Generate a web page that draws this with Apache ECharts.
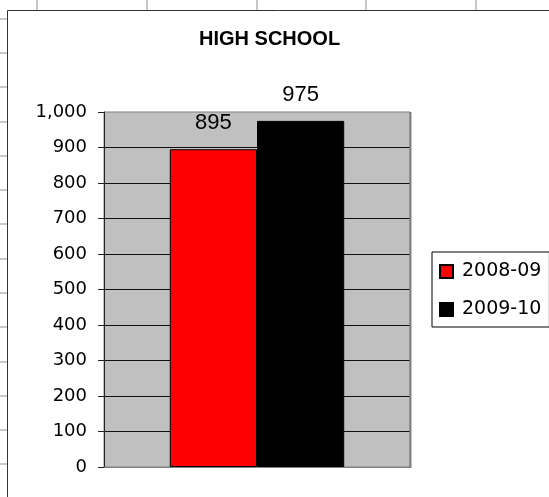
<!DOCTYPE html>
<html>
<head>
<meta charset="utf-8">
<script src="https://cdn.jsdelivr.net/npm/echarts@6/dist/echarts.min.js"></script>
<style>
	body {
		margin: 0;
		background: #fff;
	}

	#chart {
		width: 549px;
		height: 497px;
	}
</style>
</head>
<body>
<div id="chart"></div>
<script>
	// data
	var categories = ['HIGH SCHOOL'];
	var seriesNames = ['2008-09', '2009-10'];
	var values2008 = [895];
	var values2009 = [975];
	var barColors = ['#ff0000', '#000000'];

	// spreadsheet cell lines behind the chart (decoration only)
	var sheetCols = [37, 147, 257, 366, 476];
	var sheetRows = [19, 53, 87, 122, 156, 190, 224, 259, 293, 327, 362, 396, 430, 464];

	var deco = [];
	sheetCols.forEach(function(x) {
		deco.push({
			type: 'line',
			shape: { x1: x, y1: 0, x2: x, y2: 10 },
			style: { stroke: '#c8c8c8', lineWidth: 2 },
			z: -10
		});
	});
	sheetRows.forEach(function(y) {
		deco.push({
			type: 'line',
			shape: { x1: 0, y1: y, x2: 7, y2: y },
			style: { stroke: '#c8c8c8', lineWidth: 2 },
			z: -10
		});
	});
	// chart area border (runs off the right and bottom)
	deco.push({
		type: 'polyline',
		shape: { points: [[7.5, 497], [7.5, 10.5], [549, 10.5]] },
		style: { stroke: '#333', lineWidth: 1, fill: null },
		z: -5
	});
	// darker right edge of the plot area
	deco.push({
		type: 'line',
		shape: { x1: 410.5, y1: 112, x2: 410.5, y2: 468 },
		style: { stroke: '#808080', lineWidth: 2 },
		z: 5
	});

	var myChart = echarts.init(document.getElementById('chart'));

	var option = {
		animation: false,
		textStyle: { fontFamily: 'Liberation Sans, Arial, sans-serif' },
		title: {
			text: 'HIGH SCHOOL',
			left: 199,
			top: 29,
			padding: 0,
			textStyle: {
				fontFamily: 'Liberation Sans, Arial, sans-serif',
				fontSize: 20,
				fontWeight: 'bold',
				color: '#000'
			}
		},
		legend: {
			data: seriesNames,
			orient: 'vertical',
			left: 432,
			top: 252,
			padding: [10, 8, 8, 7],
			itemGap: 19,
			itemWidth: 13,
			itemHeight: 13,
			icon: 'rect',
			borderColor: '#000',
			borderWidth: 1,
			textStyle: {
				fontFamily: 'DejaVu Sans',
				fontSize: 19,
				color: '#000',
				padding: [0, 0, 0, 4]
			}
		},
		grid: {
			left: 104,
			top: 112,
			right: 139,
			bottom: 30,
			show: true,
			backgroundColor: '#c0c0c0',
			borderColor: '#808080',
			borderWidth: 1
		},
		xAxis: {
			type: 'category',
			data: categories,
			axisLine: { show: true, lineStyle: { color: '#808080', width: 1 } },
			axisTick: { show: false },
			axisLabel: { show: false }
		},
		yAxis: {
			type: 'value',
			min: 0,
			max: 1000,
			interval: 100,
			axisLine: { show: true, lineStyle: { color: '#222', width: 1 } },
			axisTick: { show: true, length: 6, lineStyle: { color: '#222' } },
			axisLabel: {
				margin: 17,
				fontFamily: 'DejaVu Sans',
				fontSize: 18,
				color: '#000',
				formatter: function(v) {
					return v.toLocaleString('en-US');
				}
			},
			splitLine: {
				show: true,
				showMinLine: false,
				showMaxLine: false,
				lineStyle: { color: '#111', width: 1 }
			}
		},
		graphic: deco,
		series: [{
				name: seriesNames[0],
				type: 'bar',
				data: values2008,
				barGap: 0,
				barCategoryGap: '43%',
				itemStyle: { color: barColors[0], borderColor: '#000', borderWidth: 1 },
				label: {
					show: true,
					position: 'top',
					distance: 15,
					fontFamily: 'Liberation Sans, Arial, sans-serif',
					fontSize: 22,
					color: '#000'
				}
			},
			{
				name: seriesNames[1],
				type: 'bar',
				data: values2009,
				barGap: 0,
				barCategoryGap: '43%',
				itemStyle: { color: barColors[1], borderColor: '#000', borderWidth: 1 },
				label: {
					show: true,
					position: 'top',
					distance: 15,
					fontFamily: 'Liberation Sans, Arial, sans-serif',
					fontSize: 22,
					color: '#000'
				}
			}
		]
	};

	myChart.setOption(option);
</script>
</body>
</html>
